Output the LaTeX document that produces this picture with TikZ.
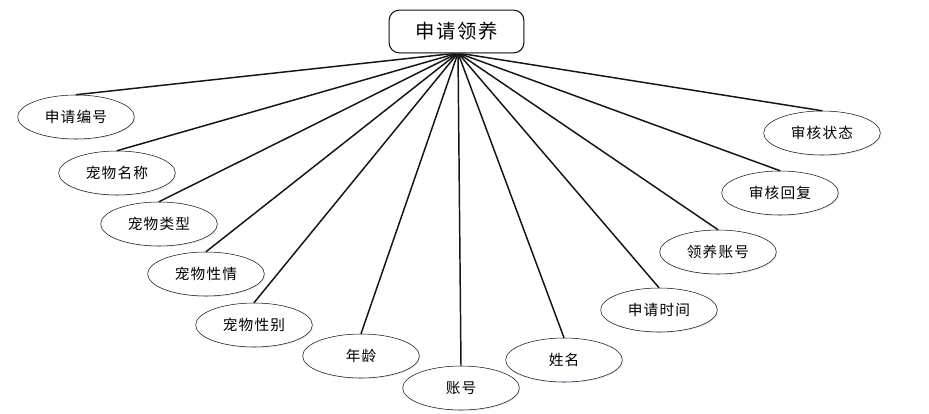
\documentclass[tikz,border=0pt]{standalone}
\usepackage{fontspec}
\newfontfamily\cjk[LetterSpace=8]{Noto Sans CJK SC}
\usetikzlibrary{shapes.geometric,shadows}
\definecolor{ink}{RGB}{20,20,20}
\definecolor{glow}{RGB}{170,200,235}
\tikzset{
  entity/.style={draw=ink,thick,fill=white,rounded corners=7.5pt,
    minimum width=101pt,minimum height=32pt,inner sep=0pt,
    font=\cjk\fontsize{14.5}{16}\selectfont,
    drop shadow={opacity=0.35,fill=glow,shadow xshift=0.8pt,shadow yshift=-0.8pt}},
  attr/.style={ellipse,draw=ink,fill=white,
    minimum width=87.5pt,minimum height=33pt,inner sep=0pt,
    font=\cjk\fontsize{11}{12}\selectfont,
    drop shadow={opacity=0.35,fill=glow,shadow xshift=0.8pt,shadow yshift=-0.8pt}},
  link/.style={draw=ink,line width=1.1pt},
}
\begin{document}
\begin{tikzpicture}[x=0.75pt,y=-0.75pt]
  \useasboundingbox (0,0) rectangle (929,414);
  % attributes
  \node[attr] (bianhao) at (76,117) {申请编号};
  \node[attr] (mingcheng) at (117,173) {宠物名称};
  \node[attr] (leixing) at (159,224) {宠物类型};
  \node[attr] (xingqing) at (206,274) {宠物性情};
  \node[attr] (xingbie) at (254,325) {宠物性别};
  \node[attr] (nianling) at (361,356) {年龄};
  \node[attr] (zhanghao) at (461,388) {账号};
  \node[attr] (xingming) at (564,360) {姓名};
  \node[attr] (shijian) at (659,310) {申请时间};
  \node[attr] (lyzhanghao) at (718,252) {领养账号};
  \node[attr] (huifu) at (780,193) {审核回复};
  \node[attr] (zhuangtai) at (822,133) {审核状态};
  % connectors
  \coordinate (hub) at (458,53);
  \foreach \a in {bianhao,mingcheng,leixing,xingqing,xingbie,nianling,
                  zhanghao,xingming,shijian,lyzhanghao,huifu,zhuangtai}
    \draw[link] (hub) -- (\a.north);
  % entity
  \node[entity] (shenqing) at (456.5,31.5) {申请领养};
\end{tikzpicture}
\end{document}
